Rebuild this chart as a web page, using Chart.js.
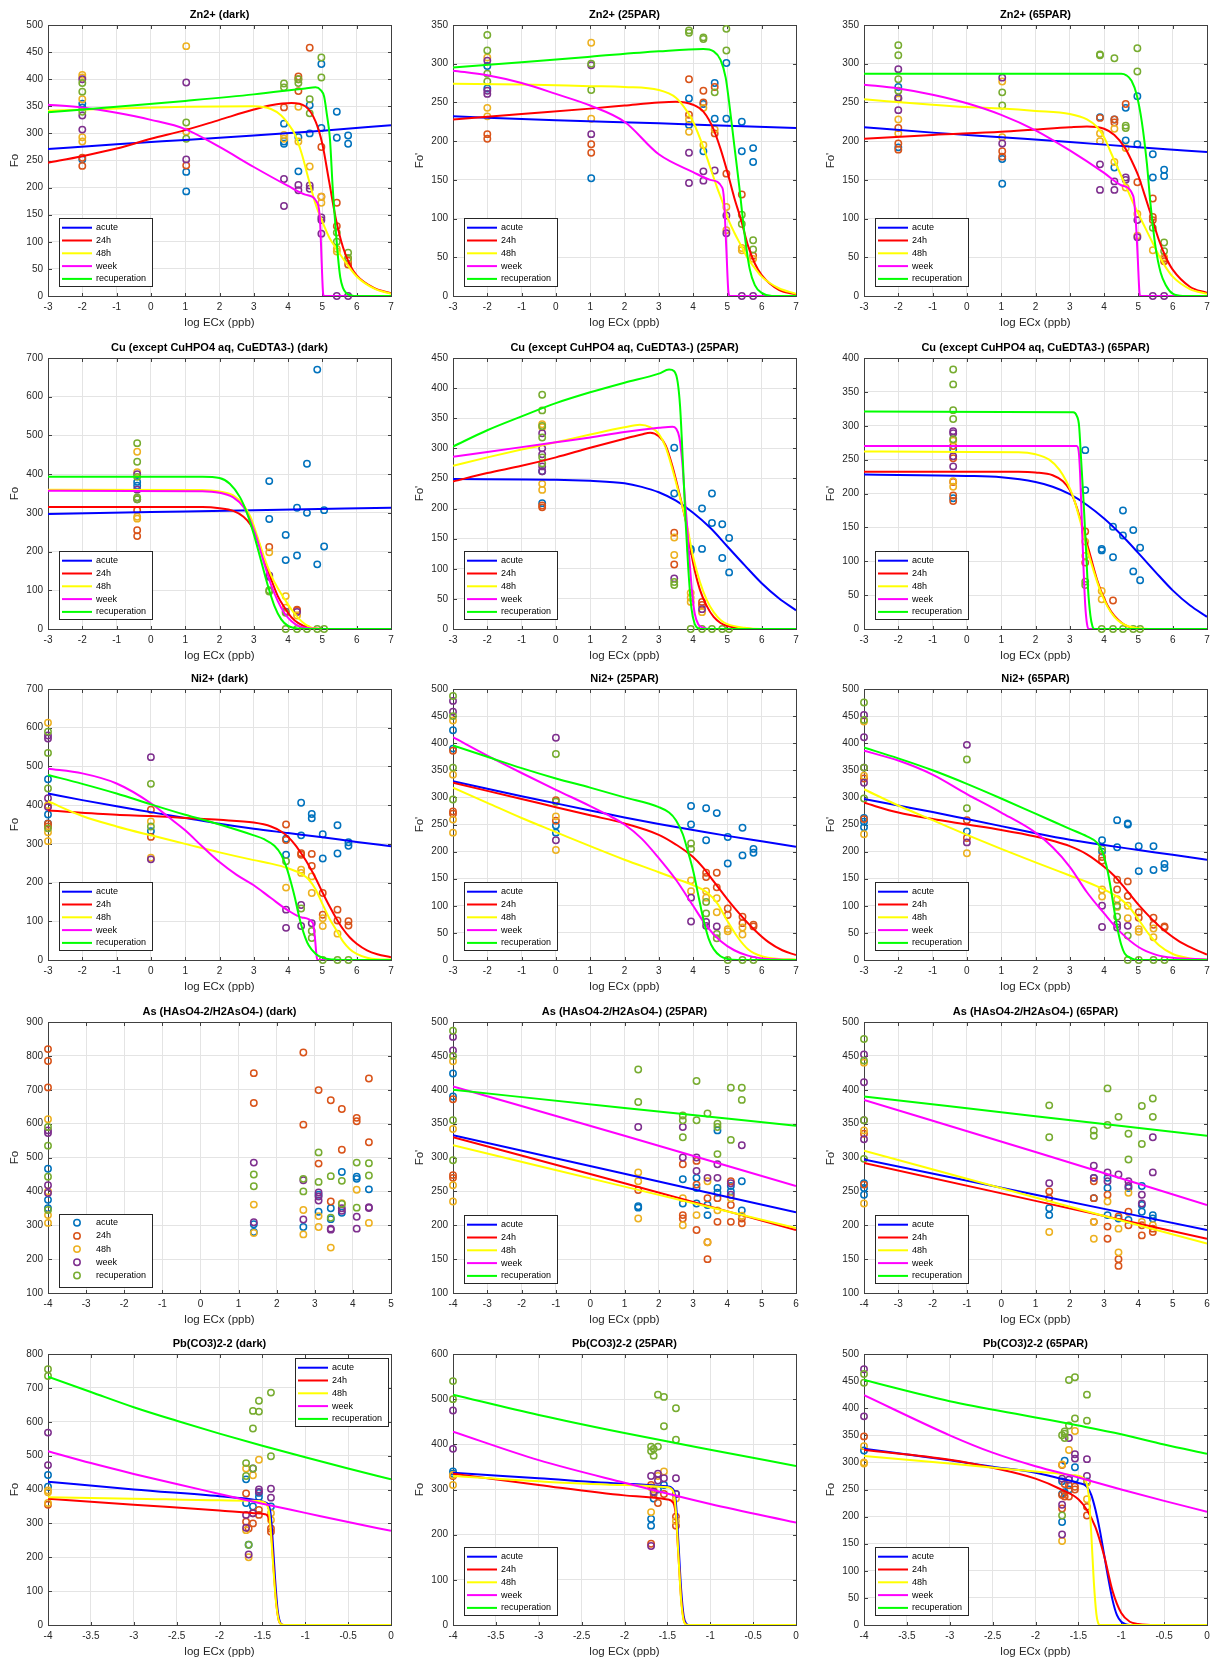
<!DOCTYPE html>
<html>
<head>
<meta charset="utf-8">
<title>Fo response to log ECx</title>
<script src="https://cdn.jsdelivr.net/npm/chart.js@4.4.1/dist/chart.umd.min.js"></script>
<style>
  html, body { margin: 0; padding: 0; background: #fff; }
  body { position: relative; width: 1219px; height: 1663px; overflow: hidden; }
  canvas { position: absolute; }
</style>
</head>
<body>
<script>
// ---------- series ----------
const seriesNames = ['acute', '24h', '48h', 'week', 'recuperation'];
const markerColors = ['#0072BD', '#D95319', '#EDB120', '#7E2F8E', '#77AC30'];
const curveColors = ['#0000FF', '#FF0000', '#FFFF00', '#FF00FF', '#00FF00'];

// ---------- tick labels ----------
const xTicksLog = [-3, -2, -1, 0, 1, 2, 3, 4, 5, 6, 7];
const xTicksAsDark = [-4, -3, -2, -1, 0, 1, 2, 3, 4, 5];
const xTicksAsPar = [-4, -3, -2, -1, 0, 1, 2, 3, 4, 5, 6];
const xTicksPb = [-4, -3.5, -3, -2.5, -2, -1.5, -1, -0.5, 0];
const yTicks350 = [0, 50, 100, 150, 200, 250, 300, 350];
const yTicks400 = [0, 50, 100, 150, 200, 250, 300, 350, 400];
const yTicks450 = [0, 50, 100, 150, 200, 250, 300, 350, 400, 450];
const yTicks500 = [0, 50, 100, 150, 200, 250, 300, 350, 400, 450, 500];
const yTicks600 = [0, 100, 200, 300, 400, 500, 600];
const yTicks700 = [0, 100, 200, 300, 400, 500, 600, 700];
const yTicks800 = [0, 100, 200, 300, 400, 500, 600, 700, 800];
const yTicksAsDark = [100, 200, 300, 400, 500, 600, 700, 800, 900];
const yTicksAsPar = [100, 150, 200, 250, 300, 350, 400, 450, 500];

// ---------- exposure levels (log ECx) ----------
const znDose = [-2, 1.03, 3.88, 4.3, 4.63, 4.97, 5.42, 5.75];
const cuDose = [-0.4, 3.45, 3.93, 4.26, 4.55, 4.85, 5.05];
const niDose = [-3, 0, 3.94, 4.38, 4.69, 5.01, 5.44, 5.76];
const asDose = [-4, 1.4, 2.7, 3.1, 3.42, 3.71, 4.1, 4.42];
const pbDose = [-4, -1.69, -1.66, -1.61, -1.54, -1.4];

// ---------- Zn2+ (dark): replicate readings per level ----------
const znDarkAcute = [[355,348,252],[229,193],[318,285,281],[293,230],[352,300],[428,310],[340,292],[296,281]];
const znDark24h   = [[255,240],[241],[348],[405,400,378],[458],[275,183],[172,129],[65,58]];
const znDark48h   = [[408,403,363,293,285],[461,303],[297,290],[349,285],[239],[183,172],[87,82],[68]];
const znDarkWeek  = [[400,333,307],[394,252],[216,166],[205,195],[204,198],[145,140,115],[0],[0]];
const znDarkRecup = [[393,377,340],[320,290],[392,385],[400,393],[363,337],[440,403],[117,100],[80,70]];
const znDarkFitAcute = [[-3,271],[-1,280],[1,288],[3,296],[5,305],[7,315]];
const znDarkFit24h = [[-3,246],[-2,258],[-1,272],[0,290],[1,306],[2,325],[3,344],[3.5,352],[4.1,356],[4.5,350],[4.8,322],[5.0,280],[5.2,210],[5.4,140],[5.6,90],[5.8,58],[6.0,38],[6.5,15],[7,5]];
const znDarkFit48h = [[-3,342],[-1,346],[1,349],[3,350],[3.5,345],[3.8,333],[4.0,318],[4.2,298],[4.4,262],[4.6,215],[4.8,170],[5.0,137],[5.2,108],[5.4,88],[5.7,60],[6.0,36],[6.5,14],[7,4]];
const znDarkFitWeek = [[-3,353],[-2,348],[-1,338],[0,325],[1,308],[2,275],[3,238],[4,203],[4.5,187],[4.85,172],[4.93,140],[4.98,60],[5.02,5],[5.05,0],[7,0]];
const znDarkFitRecup = [[-3,339],[-1,349],[1,360],[3,372],[4.5,383],[4.8,385],[4.95,380],[5.05,368],[5.13,335],[5.22,290],[5.3,200],[5.38,130],[5.45,75],[5.52,35],[5.6,15],[5.7,5],[5.85,1],[6.0,0],[7,0]];

// ---------- Zn2+ (25PAR) ----------
const zn25Acute = [[297,268],[152],[255,221],[248,187],[275,229],[301,229],[225,187],[191,173]];
const zn25_24h  = [[209,203],[196,185],[280,234],[265,250],[270,210],[158],[131],[52]];
const zn25_48h  = [[308,243,232],[327,229],[228,212],[243,195],[215],[115,85],[62,59],[48]];
const zn25Week  = [[304,265,261],[298,209],[185,146],[161,149],[162],[104,81],[0],[0]];
const zn25Recup = [[337,317,287,277],[300,266],[343,340],[334,332],[263],[345,317],[105,93],[72,60]];
const zn25FitAcute = [[-3,232],[0,227],[3,223],[5,220],[7,217]];
const zn25Fit24h = [[-3,228],[-1,235],[1,242],[2,246],[3,250],[3.5,251],[4.0,247],[4.3,238],[4.6,215],[4.8,190],[5.0,160],[5.2,127],[5.4,98],[5.6,65],[5.8,42],[6.0,27],[6.5,8],[7,2]];
const zn25Fit48h = [[-3,274],[-1,273],[1,271],[2,270],[3,266],[3.5,256],[3.8,240],[4.0,225],[4.3,192],[4.5,166],[4.7,140],[4.85,122],[5.0,102],[5.2,82],[5.4,65],[5.6,48],[5.8,36],[6.0,25],[6.5,10],[7,3]];
const zn25FitWeek = [[-3,291],[-2,285],[-1,275],[0,261],[1,246],[2,225],[3,183],[4,160],[4.5,150],[4.85,140],[4.9,125],[4.97,60],[5.03,5],[5.07,0],[7,0]];
const zn25FitRecup = [[-3,295],[-1,302],[1,309],[3,316],[4.3,319],[4.6,316],[4.8,305],[4.95,282],[5.05,250],[5.2,195],[5.35,140],[5.5,80],[5.65,35],[5.8,14],[6.0,4],[6.3,0],[7,0]];

// ---------- Zn2+ (65PAR) ----------
const zn65Acute = [[270,255,192],[177,145],[231],[228,166],[243,201],[258,196],[183,153],[163,155]];
const zn65_24h  = [[217,197,189],[187,180],[230],[228,224],[248],[147],[126,102,98],[48,45]];
const zn65_48h  = [[254,228,210],[277,205],[210,200],[216,173],[191,140],[106,78],[59],[50]];
const zn65Week  = [[293,256,240],[282,197],[170,137],[148,137],[153,150],[98,76],[0],[0]];
const zn65Recup = [[324,311,280,265],[263,246],[311,312],[307],[220,217],[320,290],[88],[69,58]];
const zn65FitAcute = [[-3,218],[-1,211],[1,205],[3,199],[5,192],[7,186]];
const zn65Fit24h = [[-3,203],[-1,208],[1,212],[2,215],[3,218],[3.5,219],[4.0,216],[4.3,208],[4.6,192],[4.8,175],[5.0,155],[5.2,128],[5.4,100],[5.6,72],[5.8,50],[6.0,34],[6.5,12],[7,4]];
const zn65Fit48h = [[-3,254],[-1,247],[0,244],[1,242],[2,239],[3,235],[3.5,228],[3.8,218],[4.0,205],[4.2,185],[4.4,165],[4.6,145],[4.8,125],[5.0,106],[5.2,88],[5.4,70],[5.6,52],[5.8,37],[6.0,25],[6.5,9],[7,3]];
const zn65FitWeek = [[-3,273],[-2,268],[-1,260],[0,249],[1,234],[2,214],[3,188],[4,159],[4.5,143],[4.85,129],[4.92,100],[4.98,50],[5.03,5],[5.06,0],[7,0]];
const zn65FitRecup = [[-3,287],[4.5,287],[4.65,285],[4.8,278],[4.95,260],[5.1,225],[5.25,170],[5.35,120],[5.5,63],[5.65,30],[5.8,14],[6.0,3],[6.3,0],[7,0]];

// ---------- Cu (dark) ----------
const cuDarkAcute = [[380,370],[382,284],[243,178],[313,190],[427,300],[670,167],[307,213]];
const cuDark24h   = [[307,255,240],[212],[],[50,48],[],[],[]];
const cuDark48h   = [[458,405,290,285],[198],[85,55],[35],[],[],[]];
const cuDarkWeek  = [[400,360,335],[138,135],[45],[44],[],[],[]];
const cuDarkRecup = [[480,432,393,340,335],[100,97],[42,0],[0],[0],[0],[0]];
const cuDarkFitAcute = [[-3,297],[0,302],[3,307],[7,313]];
const cuDarkFit24h = [[-3,315],[1.5,315],[2.0,312],[2.4,305],[2.7,290],[2.9,270],[3.1,235],[3.3,180],[3.5,130],[3.7,85],[3.9,55],[4.1,30],[4.3,15],[4.6,3],[5.0,0],[7,0]];
const cuDarkFit48h = [[-3,360],[1.5,359],[2.0,355],[2.4,345],[2.7,320],[2.9,290],[3.1,240],[3.3,185],[3.5,140],[3.7,105],[3.9,77],[4.1,50],[4.3,28],[4.5,12],[4.7,3],[5.0,0],[7,0]];
const cuDarkFitWeek = [[-3,357],[1.5,356],[2.0,352],[2.4,340],[2.7,315],[2.9,280],[3.1,230],[3.3,170],[3.5,115],[3.7,72],[3.9,40],[4.1,20],[4.3,8],[4.6,2],[5.0,0],[7,0]];
const cuDarkFitRecup = [[-3,393],[1.5,393],[2.0,390],[2.3,375],[2.6,340],[2.8,300],[3.0,245],[3.2,180],[3.4,115],[3.6,60],[3.8,25],[4.0,8],[4.3,1],[4.6,0],[7,0]];

// ---------- Cu (25PAR) ----------
const cu25Acute = [[262,209],[301,225],[133,130],[200,133],[225,176],[174,118],[151,94]];
const cu25_24h  = [[205,202],[160,107],[],[45,40],[],[],[]];
const cu25_48h  = [[340,335,241,231],[152,123],[60,52,45],[28],[],[],[]];
const cu25Week  = [[325,300,290,270,262],[84],[],[33],[],[],[]];
const cu25Recup = [[389,363,337,318,285,275],[78,73],[0],[0],[0],[0],[0]];
const cu25FitAcute = [[-3,249],[0,248],[1,246],[2,242],[2.5,236],[3,227],[3.5,213],[4,193],[4.5,168],[5,137],[5.5,106],[6,76],[6.5,51],[7,31]];
const cu25Fit24h = [[-3,245],[-2,259],[-1,271],[0,285],[1,301],[2,316],[2.5,323],[2.75,326],[3.0,320],[3.2,305],[3.4,270],[3.6,225],[3.8,175],[4.0,110],[4.2,65],[4.4,38],[4.6,20],[4.8,10],[5.0,5],[5.5,1],[6,0],[7,0]];
const cu25Fit48h = [[-3,271],[-2,285],[-1,298],[0,310],[1,323],[2,335],[2.45,339],[2.75,335],[3.0,324],[3.2,302],[3.4,265],[3.6,222],[3.8,178],[4.0,120],[4.2,78],[4.4,48],[4.6,28],[4.8,15],[5.0,8],[5.5,2],[6,0],[7,0]];
const cu25FitWeek = [[-3,286],[-1,302],[0,310],[1,318],[2,327],[3,334],[3.4,336],[3.5,333],[3.6,318],[3.68,280],[3.75,225],[3.82,175],[3.9,110],[3.98,55],[4.05,25],[4.15,8],[4.3,2],[4.5,0],[7,0]];
const cu25FitRecup = [[-3,303],[-2,330],[-1,353],[0,375],[1,393],[2,409],[3,424],[3.3,431],[3.45,428],[3.55,410],[3.62,370],[3.7,280],[3.78,180],[3.86,100],[3.95,35],[4.05,8],[4.15,1],[4.3,0],[7,0]];

// ---------- Cu (65PAR) ----------
const cu65Acute = [[265,193],[264,205],[118,116],[151,106],[175,138],[146,85],[120,72]];
const cu65_24h  = [[270,252,217,197,189],[144,98],[],[42],[],[],[]];
const cu65_48h  = [[278,218,210],[129,108],[56,44],[],[],[],[]];
const cu65Week  = [[292,289,255,240],[],[],[],[],[],[]];
const cu65Recup = [[383,361,323,310,280],[70,65],[0],[0],[0],[0],[0]];
const cu65FitAcute = [[-3,228],[0,226],[1,224],[2,217],[2.5,210],[3,199],[3.5,183],[4,163],[4.5,139],[5,112],[5.5,84],[6,57],[6.5,35],[7,18]];
const cu65Fit24h = [[-3,232],[1.5,232],[2.0,231],[2.5,227],[2.8,218],[3.0,205],[3.2,180],[3.4,145],[3.6,108],[3.8,72],[4.0,45],[4.2,26],[4.4,14],[4.6,6],[4.8,2],[5.2,0],[7,0]];
const cu65Fit48h = [[-3,262],[1.5,261],[2.0,258],[2.4,250],[2.7,235],[2.9,218],[3.1,195],[3.3,160],[3.5,120],[3.7,85],[3.9,55],[4.1,33],[4.3,18],[4.5,9],[4.7,4],[5.0,1],[5.3,0],[7,0]];
const cu65FitWeek = [[-3,270],[3.2,270],[3.26,262],[3.3,230],[3.35,160],[3.4,90],[3.45,35],[3.5,8],[3.55,0],[7,0]];
const cu65FitRecup = [[-3,321],[3.1,320],[3.2,315],[3.27,300],[3.33,250],[3.4,190],[3.47,120],[3.53,60],[3.6,20],[3.66,4],[3.72,0],[7,0]];

// ---------- Ni2+ (dark) ----------
const niDarkAcute = [[467,376,353],[333],[313,272],[406,322],[377,366],[325,262],[348,275],[304,295]];
const niDark24h   = [[398,352,345],[388,318],[350,310],[276,272],[274,243],[173,117],[130,102],[100,89]];
const niDark48h   = [[613,400,330,307],[358,264],[187],[233,225],[216,173],[108,88],[68],[]];
const niDarkWeek  = [[580,572,418,395],[524,260],[130,83],[142,88],[95],[],[],[]];
const niDarkRecup = [[590,535,443,340],[455,345],[255],[133],[75,57],[0],[0],[0]];
const niDarkFitAcute = [[-3,430],[-2,413],[-1,397],[0,382],[1,367],[2,352],[3,339],[4,328],[5,317],[6,305],[7,294]];
const niDarkFit24h = [[-3,386],[-1,375],[0,372],[1,367],[2,362],[3,355],[3.5,345],[3.8,332],[4.0,318],[4.2,298],[4.4,273],[4.6,245],[4.8,212],[5.0,175],[5.2,140],[5.4,108],[5.6,80],[5.8,58],[6.0,42],[6.3,25],[6.6,15],[7,7]];
const niDarkFit48h = [[-3,410],[-2,372],[-1,345],[0,322],[1,300],[2,278],[3,258],[3.5,249],[4.0,237],[4.4,222],[4.6,208],[4.8,183],[5.0,145],[5.2,108],[5.4,78],[5.6,48],[5.8,28],[6.0,16],[6.3,6],[6.6,2],[7,1]];
const niDarkFitWeek = [[-3,494],[-2,482],[-1,456],[0,405],[0.5,370],[1,335],[1.5,293],[2,253],[2.5,220],[3,193],[3.5,160],[4,128],[4.4,110],[4.72,96],[4.78,60],[4.83,10],[4.86,0],[7,0]];
const niDarkFitRecup = [[-3,478],[-2,455],[-1,430],[0,402],[1,375],[2,350],[3,322],[3.3,312],[3.6,295],[3.8,272],[3.95,240],[4.1,195],[4.2,160],[4.3,120],[4.4,85],[4.5,58],[4.6,38],[4.8,16],[5.0,6],[5.3,1],[5.6,0],[7,0]];

// ---------- Ni2+ (25PAR) ----------
const ni25Acute = [[424,390],[248,235],[284,250],[280,221],[271],[227,178],[244,193],[205,198]];
const ni25_24h  = [[386,274,270],[295,257],[],[161,153],[161,134],[95,83],[80,68],[65,62]];
const ni25_48h  = [[442,342,259,235],[265,203],[147,127],[127,115],[114,88],[57,53],[60,47],[]];
const ni25Week  = [[478,458],[410,221],[115,71],[70,63],[62],[],[],[]];
const ni25Recup = [[487,450,355,296],[380,292],[215,205],[107,86],[48,40],[0],[0],[0]];
const ni25FitAcute = [[-3,330],[-2,316],[-1,302],[0,289],[1,276],[2,263],[3,251],[4,240],[5,229],[6,219],[7,209]];
const ni25Fit24h = [[-3,327],[-2,312],[-1,297],[0,282],[1,267],[2,252],[3,231],[3.5,213],[4.0,190],[4.3,170],[4.6,145],[5.0,112],[5.4,82],[5.8,55],[6.2,33],[6.6,18],[7,9]];
const ni25Fit48h = [[-3,318],[-2,290],[-1,262],[0,236],[1,210],[2,185],[3,162],[3.5,150],[4,138],[4.4,125],[4.7,105],[5.0,72],[5.3,42],[5.6,20],[6.0,7],[6.5,2],[7,1]];
const ni25FitWeek = [[-3,411],[-2,377],[-1,345],[0,314],[1,284],[1.5,268],[2,250],[2.5,224],[3,188],[3.5,148],[4,100],[4.4,62],[4.8,35],[5.2,18],[5.6,8],[6,3],[6.5,1],[7,0]];
const ni25FitRecup = [[-3,396],[-2,375],[-1,354],[0,335],[1,318],[2,300],[3,282],[3.3,272],[3.5,258],[3.7,232],[3.85,200],[4.0,165],[4.15,120],[4.3,75],[4.45,40],[4.6,20],[4.8,7],[5.0,2],[5.3,0],[7,0]];

// ---------- Ni2+ (65PAR) ----------
const ni65Acute = [[262,255,245],[237],[221,200],[258,208],[252,250],[210,164],[210,166],[177,170]];
const ni65_24h  = [[335,260],[258,225],[190,183],[148,130],[145,118],[88,78],[78,65],[62,60]];
const ni65_48h  = [[440,340,232],[197],[130,117],[112,98],[100,77],[57,52],[58,42],[]];
const ni65Week  = [[452,411,355,327],[397,217],[100,61],[66,60],[63],[],[],[]];
const ni65Recup = [[475,443,355,298],[370,280],[205],[100,80],[45,0],[0],[0],[0]];
const ni65FitAcute = [[-3,297],[-2,285],[-1,273],[0,260],[1,247],[2,234],[3,222],[4,212],[5,203],[6,194],[7,185]];
const ni65Fit24h = [[-3,290],[-2,272],[-1,260],[0,250],[1,240],[2,228],[2.5,220],[3,210],[3.5,195],[4,172],[4.3,155],[4.6,133],[5,102],[5.4,75],[5.8,52],[6.2,34],[6.6,21],[7,10]];
const ni65Fit48h = [[-3,315],[-2,285],[-1,258],[0,231],[1,205],[2,180],[3,156],[3.5,144],[4,130],[4.4,116],[4.7,100],[5,75],[5.3,48],[5.6,27],[6.0,11],[6.5,3],[7,1]];
const ni65FitWeek = [[-3,386],[-2,368],[-1,342],[0,306],[1,272],[2,235],[2.5,208],[3,172],[3.5,125],[4,86],[4.5,50],[5,24],[5.5,10],[6,4],[7,1]];
const ni65FitRecup = [[-3,392],[-2,372],[-1,350],[0,325],[1,298],[2,270],[3,242],[3.5,228],[3.8,216],[3.95,200],[4.1,165],[4.2,130],[4.3,90],[4.4,55],[4.5,28],[4.6,12],[4.8,3],[5.0,0],[7,0]];

// ---------- As (dark) ----------
const asDarkAcute = [[467,375,350],[303,280],[295],[390,340],[350,318],[457,337],[443,437],[406]];
const asDark24h   = [[820,785,707],[749,661],[810,597],[699,482],[669,370],[643,523],[617,607],[733,545]];
const asDark48h   = [[613,400,330,307],[361,277],[345,273],[327,295],[234],[365],[405],[307]];
const asDarkWeek  = [[580,572,418,395],[485,309],[433,317],[397,385,373],[290,287],[350,343],[325,290],[353,351]];
const asDarkRecup = [[590,535,443,345],[450,415],[437,400],[515,428],[445,322],[431,363],[485,352],[483,447]];

// ---------- As (25PAR) ----------
const as25Acute = [[424,390],[228,226],[268,232],[270,255,232],[230,215],[340,255,248],[258,250],[265,222]];
const as25_24h  = [[386,274,270],[252],[290,215,210],[295,260,193],[240,175,150],[240,205],[265,230,205],[210,203]];
const as25_48h  = [[442,342,259,235],[278,265,210],[240,200],[215],[265,175],[222],[240],[214]];
const as25Week  = [[478,458],[345],[345,300],[300,280],[270],[290,270],[262,245],[318]];
const as25Recup = [[487,450,355,296],[430,382],[362,355,330],[413,355],[365],[350,345,305],[403,326],[403,385]];
const as25FitAcute = [[-4,333],[1,276],[6,219]];
const as25Fit24h = [[-4,330],[1,262],[6,193]];
const as25Fit48h = [[-4,318],[1,257],[6,196]];
const as25FitWeek = [[-4,405],[1,332],[6,258]];
const as25FitRecup = [[-4,400],[1,373],[6,347]];

// ---------- As (65PAR) ----------
const as65Acute = [[262,255,245],[225,215],[270,240],[270,255,215],[210],[255,208],[258,230,220],[215,210]];
const as65_24h  = [[335,260],[250,240],[265,240,205],[245,198,180],[213,150,140],[220,200],[200,185],[195,190]];
const as65_48h  = [[440,340,232],[190],[205,180],[235],[195,160],[248],[205],[200]];
const as65Week  = [[452,411,355,327],[262],[288,270],[278,265],[275],[265,258],[245,232],[330,278]];
const as65Recup = [[475,443,355,298],[377,330],[340,332],[402,348],[360],[335,297],[376,320],[387,360]];
const as65FitAcute = [[-4,297],[1,245],[6,193]];
const as65Fit24h = [[-4,292],[1,236],[6,180]];
const as65Fit48h = [[-4,310],[1,241],[6,173]];
const as65FitWeek = [[-4,385],[1,308],[6,230]];
const as65FitRecup = [[-4,390],[1,361],[6,332]];

// ---------- Pb(CO3)2-2 (dark) ----------
const pbDarkAcute = [[443,408],[430,360],[237],[350],[390,378],[350]];
const pbDark24h   = [[355],[388,305],[285],[330,300],[340,325],[285,275]];
const pbDark48h   = [[397,392,360],[462,280],[200],[442],[488],[330,310]];
const pbDarkWeek  = [[568,472],[325,287],[208],[462,330],[400,393],[402,376]];
const pbDarkRecup = [[755,735],[478,440],[237],[632,580,462],[662,630],[686,498]];
const pbDarkFitAcute = [[-4,423],[-3,400],[-2,380],[-1.6,370],[-1.5,365],[-1.45,360],[-1.42,350],[-1.4,320],[-1.38,250],[-1.35,130],[-1.32,40],[-1.29,6],[-1.26,0],[0,0]];
const pbDarkFit24h = [[-4,373],[-3,355],[-2,338],[-1.6,330],[-1.47,327],[-1.43,318],[-1.4,280],[-1.37,170],[-1.34,70],[-1.31,15],[-1.28,2],[-1.25,0],[0,0]];
const pbDarkFit48h = [[-4,377],[-3,373],[-2,368],[-1.6,367],[-1.5,364],[-1.45,356],[-1.42,330],[-1.4,270],[-1.37,160],[-1.34,65],[-1.31,15],[-1.28,2],[-1.25,0],[0,0]];
const pbDarkFitWeek = [[-4,513],[-3.5,478],[-3,446],[-2.5,416],[-2,387],[-1.5,358],[-1,331],[-0.5,304],[0,278]];
const pbDarkFitRecup = [[-4,733],[-3.5,688],[-3,643],[-2.5,603],[-2,565],[-1.5,529],[-1,495],[-0.5,462],[0,430]];

// ---------- Pb(CO3)2-2 (25PAR) ----------
const pb25Acute = [[340,335],[235,220],[280],[300],[310],[290]];
const pb25_24h  = [[330],[310,180],[290],[270],[290],[240,220]];
const pb25_48h  = [[332,310],[305,250],[300],[330],[340],[280,230]];
const pb25Week  = [[475,390],[330,175],[295],[335,320],[325],[325,290]];
const pb25Recup = [[540,500],[395,385],[375,390],[510,395],[505,440],[480,410]];
const pb25FitAcute = [[-4,337],[-3,325],[-2,313],[-1.5,307],[-1.43,300],[-1.4,270],[-1.37,180],[-1.34,80],[-1.31,20],[-1.28,3],[-1.25,0],[0,0]];
const pb25Fit24h = [[-4,335],[-3,310],[-2,287],[-1.5,278],[-1.43,270],[-1.4,240],[-1.37,150],[-1.34,60],[-1.31,12],[-1.28,1],[-1.25,0],[0,0]];
const pb25Fit48h = [[-4,330],[-3,318],[-2,310],[-1.5,305],[-1.43,295],[-1.4,250],[-1.37,150],[-1.34,55],[-1.31,10],[-1.28,1],[-1.25,0],[0,0]];
const pb25FitWeek = [[-4,428],[-3,365],[-2,315],[-1,268],[0,227]];
const pb25FitRecup = [[-4,510],[-3,465],[-2,425],[-1,388],[0,352]];

// ---------- Pb(CO3)2-2 (65PAR) ----------
const pb65Acute = [[322],[265,242,190],[303,245],[250],[291,270],[265]];
const pb65_24h  = [[348],[295,240,215],[260,237],[237,258],[250,255],[218,202]];
const pb65_48h  = [[330,300,298],[296,155],[],[323],[358],[263,232]];
const pb65Week  = [[472,385],[270,222,167],[],[345,268],[315,307],[306,275]];
const pb65Recup = [[463,447],[350,202],[357,353,345],[452,368],[457,381],[425,377]];
const pb65FitAcute = [[-4,325],[-3,304],[-2.5,292],[-2,281],[-1.7,270],[-1.5,262],[-1.4,255],[-1.35,240],[-1.3,212],[-1.25,175],[-1.2,130],[-1.15,85],[-1.1,45],[-1.05,18],[-1.0,6],[-0.95,1.5],[-0.9,0],[0,0]];
const pb65Fit24h = [[-4,323],[-3,305],[-2.5,290],[-2,270],[-1.7,250],[-1.5,232],[-1.4,212],[-1.3,180],[-1.2,128],[-1.1,62],[-1.0,22],[-0.9,6],[-0.8,2],[-0.6,0],[0,0]];
const pb65Fit48h = [[-4,312],[-3,298],[-2,283],[-1.6,277],[-1.45,272],[-1.41,265],[-1.38,240],[-1.35,170],[-1.32,80],[-1.29,20],[-1.27,4],[-1.25,0],[0,0]];
const pb65FitWeek = [[-4,424],[-3,350],[-2.5,318],[-2,293],[-1.5,272],[-1,250],[-0.5,229],[0,209]];
const pb65FitRecup = [[-4,452],[-3,413],[-2,383],[-1.5,368],[-1,352],[-0.5,333],[0,316]];

// ---------- panel table ----------
const panels = [
  { title: 'Zn2+ (dark)', ylabel: 'Fo', xTicks: xTicksLog, yTicks: yTicks500, dose: znDose,
    obs: [znDarkAcute, znDark24h, znDark48h, znDarkWeek, znDarkRecup],
    fit: [znDarkFitAcute, znDarkFit24h, znDarkFit48h, znDarkFitWeek, znDarkFitRecup], legend: 'bl' },
  { title: 'Zn2+ (25PAR)', ylabel: "Fo'", xTicks: xTicksLog, yTicks: yTicks350, dose: znDose,
    obs: [zn25Acute, zn25_24h, zn25_48h, zn25Week, zn25Recup],
    fit: [zn25FitAcute, zn25Fit24h, zn25Fit48h, zn25FitWeek, zn25FitRecup], legend: 'bl' },
  { title: 'Zn2+ (65PAR)', ylabel: "Fo'", xTicks: xTicksLog, yTicks: yTicks350, dose: znDose,
    obs: [zn65Acute, zn65_24h, zn65_48h, zn65Week, zn65Recup],
    fit: [zn65FitAcute, zn65Fit24h, zn65Fit48h, zn65FitWeek, zn65FitRecup], legend: 'bl' },
  { title: 'Cu (except CuHPO4 aq, CuEDTA3-) (dark)', ylabel: 'Fo', xTicks: xTicksLog, yTicks: yTicks700, dose: cuDose,
    obs: [cuDarkAcute, cuDark24h, cuDark48h, cuDarkWeek, cuDarkRecup],
    fit: [cuDarkFitAcute, cuDarkFit24h, cuDarkFit48h, cuDarkFitWeek, cuDarkFitRecup], legend: 'bl' },
  { title: 'Cu (except CuHPO4 aq, CuEDTA3-) (25PAR)', ylabel: "Fo'", xTicks: xTicksLog, yTicks: yTicks450, dose: cuDose,
    obs: [cu25Acute, cu25_24h, cu25_48h, cu25Week, cu25Recup],
    fit: [cu25FitAcute, cu25Fit24h, cu25Fit48h, cu25FitWeek, cu25FitRecup], legend: 'bl' },
  { title: 'Cu (except CuHPO4 aq, CuEDTA3-) (65PAR)', ylabel: "Fo'", xTicks: xTicksLog, yTicks: yTicks400, dose: cuDose,
    obs: [cu65Acute, cu65_24h, cu65_48h, cu65Week, cu65Recup],
    fit: [cu65FitAcute, cu65Fit24h, cu65Fit48h, cu65FitWeek, cu65FitRecup], legend: 'bl' },
  { title: 'Ni2+ (dark)', ylabel: 'Fo', xTicks: xTicksLog, yTicks: yTicks700, dose: niDose,
    obs: [niDarkAcute, niDark24h, niDark48h, niDarkWeek, niDarkRecup],
    fit: [niDarkFitAcute, niDarkFit24h, niDarkFit48h, niDarkFitWeek, niDarkFitRecup], legend: 'bl' },
  { title: 'Ni2+ (25PAR)', ylabel: "Fo'", xTicks: xTicksLog, yTicks: yTicks500, dose: niDose,
    obs: [ni25Acute, ni25_24h, ni25_48h, ni25Week, ni25Recup],
    fit: [ni25FitAcute, ni25Fit24h, ni25Fit48h, ni25FitWeek, ni25FitRecup], legend: 'bl' },
  { title: 'Ni2+ (65PAR)', ylabel: "Fo'", xTicks: xTicksLog, yTicks: yTicks500, dose: niDose,
    obs: [ni65Acute, ni65_24h, ni65_48h, ni65Week, ni65Recup],
    fit: [ni65FitAcute, ni65Fit24h, ni65Fit48h, ni65FitWeek, ni65FitRecup], legend: 'bl' },
  { title: 'As (HAsO4-2/H2AsO4-) (dark)', ylabel: 'Fo', xTicks: xTicksAsDark, yTicks: yTicksAsDark, dose: asDose,
    obs: [asDarkAcute, asDark24h, asDark48h, asDarkWeek, asDarkRecup],
    fit: null, legend: 'bl', markerLegend: true },
  { title: 'As (HAsO4-2/H2AsO4-) (25PAR)', ylabel: "Fo'", xTicks: xTicksAsPar, yTicks: yTicksAsPar, dose: asDose,
    obs: [as25Acute, as25_24h, as25_48h, as25Week, as25Recup],
    fit: [as25FitAcute, as25Fit24h, as25Fit48h, as25FitWeek, as25FitRecup], legend: 'bl' },
  { title: 'As (HAsO4-2/H2AsO4-) (65PAR)', ylabel: "Fo'", xTicks: xTicksAsPar, yTicks: yTicksAsPar, dose: asDose,
    obs: [as65Acute, as65_24h, as65_48h, as65Week, as65Recup],
    fit: [as65FitAcute, as65Fit24h, as65Fit48h, as65FitWeek, as65FitRecup], legend: 'bl' },
  { title: 'Pb(CO3)2-2 (dark)', ylabel: 'Fo', xTicks: xTicksPb, yTicks: yTicks800, dose: pbDose,
    obs: [pbDarkAcute, pbDark24h, pbDark48h, pbDarkWeek, pbDarkRecup],
    fit: [pbDarkFitAcute, pbDarkFit24h, pbDarkFit48h, pbDarkFitWeek, pbDarkFitRecup], legend: 'tr' },
  { title: 'Pb(CO3)2-2 (25PAR)', ylabel: 'Fo', xTicks: xTicksPb, yTicks: yTicks600, dose: pbDose,
    obs: [pb25Acute, pb25_24h, pb25_48h, pb25Week, pb25Recup],
    fit: [pb25FitAcute, pb25Fit24h, pb25Fit48h, pb25FitWeek, pb25FitRecup], legend: 'bl' },
  { title: 'Pb(CO3)2-2 (65PAR)', ylabel: 'Fo', xTicks: xTicksPb, yTicks: yTicks500, dose: pbDose,
    obs: [pb65Acute, pb65_24h, pb65_48h, pb65Week, pb65Recup],
    fit: [pb65FitAcute, pb65Fit24h, pb65Fit48h, pb65FitWeek, pb65FitRecup], legend: 'bl' }
];

// ---------- look ----------
const FONT = '"Liberation Sans", Arial, Helvetica, sans-serif';
const TEXT = '#262626';
const GRID = '#e4e4e4';
const AXIS = '#404040';
const COL_X = [48, 453, 864];
const ROW_Y = [25, 358, 689, 1022, 1354];
const PLOT_W = 343, PLOT_H = 271;
const PAD_L = 48, PAD_T = 25, PAD_R = 8, PAD_B = 38;

// panel title above the plot box
const heading = {
  id: 'heading',
  afterDraw(chart, args, opts) {
    const { ctx, chartArea: a } = chart;
    ctx.save();
    ctx.font = 'bold 11px ' + FONT;
    ctx.fillStyle = '#000';
    ctx.textAlign = 'center';
    ctx.textBaseline = 'middle';
    ctx.fillText(opts.text, (a.left + a.right) / 2, a.top - 10);
    ctx.restore();
  }
};

// axes box with inward tick marks, under the data
const frame = {
  id: 'frame',
  beforeDatasetsDraw(chart) {
    const { ctx, chartArea: a, scales } = chart;
    ctx.save();
    ctx.strokeStyle = AXIS;
    ctx.lineWidth = 1;
    const L = Math.round(a.left) + 0.5, T = Math.round(a.top) + 0.5;
    const R = Math.round(a.right) + 0.5, B = Math.round(a.bottom) + 0.5;
    ctx.strokeRect(L, T, R - L, B - T);
    ctx.beginPath();
    scales.x.ticks.forEach(t => {
      const x = Math.round(scales.x.getPixelForValue(t.value)) + 0.5;
      ctx.moveTo(x, B); ctx.lineTo(x, B - 3.5);
      ctx.moveTo(x, T); ctx.lineTo(x, T + 3.5);
    });
    scales.y.ticks.forEach(t => {
      const y = Math.round(scales.y.getPixelForValue(t.value)) + 0.5;
      ctx.moveTo(L, y); ctx.lineTo(L + 3.5, y);
      ctx.moveTo(R, y); ctx.lineTo(R - 3.5, y);
    });
    ctx.stroke();
    ctx.restore();
  }
};

// boxed legend inside the axes
const boxLegend = {
  id: 'boxLegend',
  afterDraw(chart, args, opts) {
    const { ctx, chartArea: a } = chart;
    const markers = !!opts.markers;
    const w = 93, rowH = markers ? 13.2 : 12.8, h = markers ? 73 : 68;
    let x0, y0;
    if (opts.corner === 'tr') { x0 = Math.round(a.right) - 3 - w; y0 = Math.round(a.top) + 4; }
    else { x0 = Math.round(a.left) + 11; y0 = Math.round(a.bottom) - (markers ? 6 : 10) - h; }
    ctx.save();
    ctx.fillStyle = '#fff';
    ctx.fillRect(x0, y0, w, h);
    ctx.strokeStyle = '#262626';
    ctx.lineWidth = 1;
    ctx.strokeRect(x0 + 0.5, y0 + 0.5, w, h);
    ctx.font = '9px ' + FONT;
    ctx.textBaseline = 'middle';
    ctx.textAlign = 'left';
    seriesNames.forEach((name, i) => {
      const cy = y0 + (markers ? 8.7 : 9.7) + i * rowH;
      if (markers) {
        ctx.strokeStyle = markerColors[i];
        ctx.lineWidth = 1.5;
        ctx.beginPath();
        ctx.arc(x0 + 18, cy, 3.2, 0, Math.PI * 2);
        ctx.stroke();
      } else {
        ctx.strokeStyle = curveColors[i];
        ctx.lineWidth = 2;
        ctx.beginPath();
        ctx.moveTo(x0 + 3, cy);
        ctx.lineTo(x0 + 33, cy);
        ctx.stroke();
      }
      ctx.fillStyle = '#000';
      ctx.fillText(name, x0 + 37, cy);
    });
    ctx.restore();
  }
};

function axisOptions(ticks, titleText, isX) {
  return {
    type: 'linear',
    position: isX ? 'bottom' : 'left',
    min: ticks[0],
    max: ticks[ticks.length - 1],
    afterBuildTicks: s => { s.ticks = ticks.map(v => ({ value: v })); },
    afterFit: s => { if (isX) s.height = PAD_B; else s.width = PAD_L; },
    ticks: {
      autoSkip: false, maxRotation: 0, minRotation: 0,
      padding: 5, color: TEXT,
      font: { family: FONT, size: 10 },
      callback: v => String(v)
    },
    grid: { color: GRID, lineWidth: 1, drawTicks: false },
    border: { display: false },
    title: {
      display: true, text: titleText, color: TEXT,
      font: { family: FONT, size: 11.5 },
      padding: isX ? { top: 0, bottom: 4 } : { top: 8, bottom: 0 }
    }
  };
}

panels.forEach((p, k) => {
  const r = Math.floor(k / 3), c = k % 3;
  const W = PAD_L + PLOT_W + PAD_R, H = PAD_T + PLOT_H + PAD_B;
  const cv = document.createElement('canvas');
  cv.width = W; cv.height = H;
  cv.style.width = W + 'px'; cv.style.height = H + 'px';
  cv.style.left = (COL_X[c] - PAD_L) + 'px';
  cv.style.top = (ROW_Y[r] - PAD_T) + 'px';
  document.body.appendChild(cv);

  // layers listed bottom to top: observations first, then fitted curves
  const layers = [];
  p.obs.forEach((groups, i) => {
    const pts = [];
    groups.forEach((vals, j) => vals.forEach(v => pts.push({ x: p.dose[j], y: v })));
    layers.push({
      label: seriesNames[i], data: pts, showLine: false,
      pointStyle: 'circle', pointRadius: 3.2, pointHoverRadius: 3.2,
      pointBorderWidth: 1.5, pointBorderColor: markerColors[i],
      pointBackgroundColor: 'rgba(0,0,0,0)', clip: false
    });
  });
  if (p.fit) {
    p.fit.forEach((f, i) => {
      layers.push({
        label: seriesNames[i], data: f.map(([x, y]) => ({ x, y })), showLine: true,
        borderColor: curveColors[i], borderWidth: 2, pointRadius: 0, pointHoverRadius: 0,
        cubicInterpolationMode: 'monotone', fill: false
      });
    });
  }
  // Chart.js paints the lowest order last (on top)
  layers.forEach((d, i) => { d.order = layers.length - i; });

  new Chart(cv, {
    type: 'scatter',
    data: { datasets: layers },
    options: {
      responsive: false,
      animation: false,
      events: [],
      layout: { padding: { left: 0, top: PAD_T, right: PAD_R, bottom: 0 } },
      scales: {
        x: axisOptions(p.xTicks, 'log ECx (ppb)', true),
        y: axisOptions(p.yTicks, p.ylabel, false)
      },
      plugins: {
        legend: { display: false },
        tooltip: { enabled: false },
        heading: { text: p.title },
        boxLegend: { corner: p.legend, markers: !!p.markerLegend }
      }
    },
    plugins: [frame, heading, boxLegend]
  });
});
</script>
</body>
</html>
